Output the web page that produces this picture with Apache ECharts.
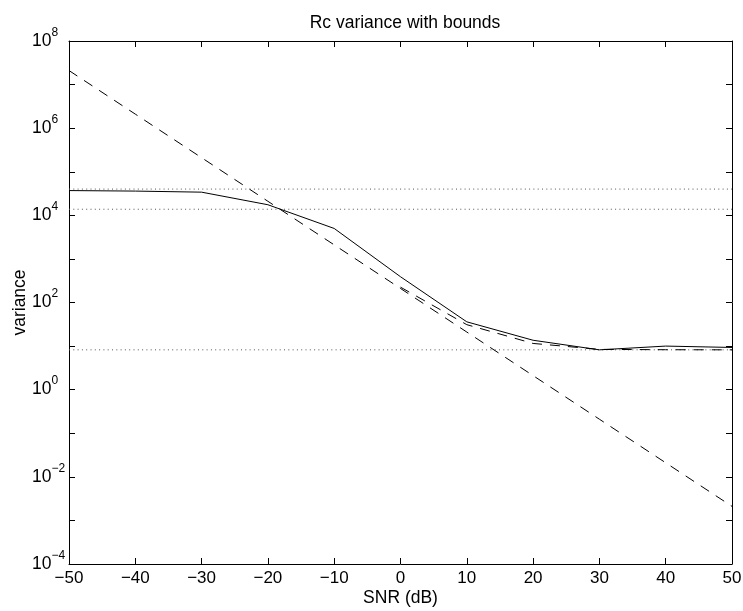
<!DOCTYPE html>
<html><head><meta charset="utf-8">
<script src="https://cdn.jsdelivr.net/npm/echarts@6/dist/echarts.min.js"></script>
<style>html,body{margin:0;padding:0;background:#fff}#c{width:743px;height:611px}</style>
</head><body><div id="c"></div>
<script>
const snr = [-50, -40, -30, -20, -10, 0, 10, 20, 30, 40, 50];
const measured = [3.7e4, 3.6e4, 3.4e4, 1.75e4, 5.0e3, 390, 36, 13.6, 8.2, 10, 9.3];
const crb = [2.1e7, 2.1e6, 2.1e5, 2.1e4, 2.1e3, 210, 21, 2.1, 0.21, 0.021, 0.0021];
const boundSum = [null, null, null, null, null, 225, 31, 11.5, 8.4, 8.25, 8.2];
const hLevels = [4.0e4, 1.38e4, 8.2];

const font = 'Liberation Sans, Arial, Helvetica, sans-serif';
const chart = echarts.init(document.getElementById('c'));
const pairs = arr => snr.map((x, i) => [x, arr[i]]);
const axisLineStyle = { onZero: false, lineStyle: { color: '#000', width: 1 } };
const tickStyle = { inside: true, length: 6, lineStyle: { color: '#000', width: 1 } };
const supFmt = v => {
  const e = Math.round(Math.log10(v));
  if (e % 2 !== 0) return '';
  const s = e < 0 ? '\u2212' + (-e) : String(e);
  return '{b|10}{s|' + s + '}';
};
chart.setOption({
  animation: false,
  title: { text: 'Rc variance with bounds', left: 400, top: 9, textAlign: 'center',
    textStyle: { fontFamily: font, fontSize: 17.5, fontWeight: 'normal', color: '#000' } },
  grid: { left: 69, right: 11, top: 41, bottom: 47, outerBoundsMode: 'none', containLabel: false },
  xAxis: [{
    type: 'value', min: -50, max: 50, interval: 10, position: 'bottom',
    name: 'SNR (dB)', nameLocation: 'middle', nameGap: 25, nameMoveOverlap: false,
    nameTextStyle: { fontFamily: font, fontSize: 17.5, color: '#000' },
    axisLine: axisLineStyle, axisTick: tickStyle,
    axisLabel: { fontFamily: font, fontSize: 17, color: '#000', margin: 6,
      formatter: v => (v < 0 ? '\u2212' + (-v) : String(v)) },
    splitLine: { show: false }
  }, {
    type: 'value', min: -50, max: 50, interval: 10, position: 'top',
    axisLine: axisLineStyle, axisTick: tickStyle,
    axisLabel: { show: false }, splitLine: { show: false }
  }],
  yAxis: [{
    type: 'log', logBase: 10, min: 1e-4, max: 1e8, interval: 1, position: 'left',
    name: 'variance', nameLocation: 'middle', nameGap: 40, nameRotate: 90, nameMoveOverlap: false,
    nameTextStyle: { fontFamily: font, fontSize: 17.5, color: '#000' },
    axisLine: axisLineStyle, axisTick: tickStyle,
    axisLabel: { fontFamily: font, color: '#000', margin: 37, align: 'left', formatter: supFmt,
      rich: { b: { fontFamily: font, fontSize: 17.5, color: '#000' },
              s: { fontFamily: font, fontSize: 12, color: '#000', padding: [0, 0, 17, 0] } } },
    splitLine: { show: false }, minorTick: { show: false }
  }, {
    type: 'log', logBase: 10, min: 1e-4, max: 1e8, interval: 1, position: 'right',
    axisLine: axisLineStyle, axisTick: tickStyle,
    axisLabel: { show: false }, splitLine: { show: false }
  }],
  series: [
    ...hLevels.map(h => ({
      type: 'line', data: [[-50, h], [50, h]], symbol: 'none', silent: true,
      lineStyle: { color: '#555', width: 1, type: [1, 3.3] }
    })),
    { type: 'line', data: pairs(crb), symbol: 'none',
      lineStyle: { color: '#000', width: 1, type: [10, 8] } },
    { type: 'line', data: pairs(boundSum), symbol: 'none', connectNulls: false,
      lineStyle: { color: '#000', width: 1, type: [10, 8] } },
    { type: 'line', data: pairs(measured), symbol: 'none',
      lineStyle: { color: '#000', width: 1, type: 'solid' } }
  ]
});
</script></body></html>
